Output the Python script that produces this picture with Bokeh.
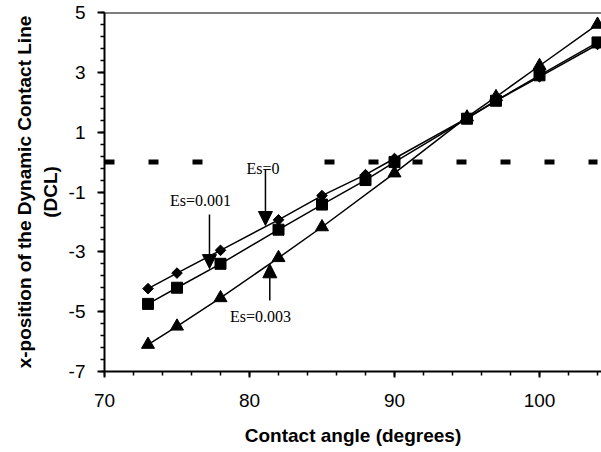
import numpy as np
from bokeh.plotting import figure
from bokeh.models import (FixedTicker, Span, Label, Arrow, NormalHead, Range1d,
                          CustomJSTickFormatter)
from bokeh.embed import file_html
from bokeh.resources import INLINE

# ---- data ----
angle_es0 = [73, 75, 78, 82, 85, 88, 90, 95, 97, 100, 104]
dcl_es0 = [-4.23, -3.71, -2.95, -1.93, -1.12, -0.42, 0.12, 1.47, 2.05, 2.85, 3.93]

angle_es001 = [73, 75, 78, 82, 85, 88, 90, 95, 97, 100, 104]
dcl_es001 = [-4.74, -4.2, -3.4, -2.26, -1.42, -0.6, 0.0, 1.45, 2.05, 2.9, 4.0]

angle_es003 = [73, 75, 78, 82, 85, 90, 95, 97, 100, 104]
dcl_es003 = [-6.1, -5.49, -4.54, -3.2, -2.17, -0.37, 1.5, 2.18, 3.22, 4.6]

zero_x = [70, 104]
zero_y = [0, 0]

x_ticks = [70, 80, 90, 100]
y_ticks = [-7, -5, -3, -1, 1, 3, 5]

labels = ["Es=0", "Es=0.001", "Es=0.003"]
label_x = [80.93, 76.62, 80.76]
label_y = [-0.21, -1.3, -5.16]
arrow_x = [81.1, 77.24, 81.4]
arrow_tail = [-0.25, -1.75, -4.63]
arrow_tip = [-2.12, -3.56, -3.4]

AX_FONT = "Liberation Sans"
ANN_FONT = "Liberation Serif"

p = figure(width=601, height=452, output_backend="svg", toolbar_location=None,
           x_range=Range1d(70, 70 + 497 / 14.5), y_range=Range1d(-7, 5),
           min_border_left=104, min_border_right=0, min_border_top=12,
           min_border_bottom=81)
p.outline_line_color = None
p.grid.grid_line_color = None
p.background_fill_color = "white"
p.border_fill_color = "white"

# axes
fmt = "return String(tick);"
p.xaxis.ticker = FixedTicker(ticks=x_ticks, minor_ticks=list(np.arange(70, 105, 2)))
p.yaxis.ticker = FixedTicker(ticks=y_ticks, minor_ticks=list(np.round(np.arange(-7, 5.01, 0.4), 2)))
for ax in (p.xaxis, p.yaxis):
    ax.formatter = CustomJSTickFormatter(code=fmt)
    ax.axis_line_color = "black"
    ax.axis_line_width = 2
    ax.major_tick_line_color = "black"
    ax.major_tick_line_width = 2
    ax.minor_tick_line_color = "black"
    ax.minor_tick_line_width = 1.5
    ax.major_tick_in = 0
    ax.minor_tick_in = 0
    ax.minor_tick_out = 4
    ax.major_label_text_font = AX_FONT
    ax.major_label_text_font_size = "19px"
    ax.major_label_text_color = "black"
    ax.axis_label_text_font = AX_FONT
    ax.axis_label_text_font_size = "19px"
    ax.axis_label_text_font_style = "bold"
    ax.axis_label_text_color = "black"
p.xaxis.major_tick_out = 6
p.yaxis.major_tick_out = 7
p.xaxis.major_label_standoff = 16
p.yaxis.major_label_standoff = 12
p.xaxis.axis_label = "Contact angle (degrees)"
p.yaxis.axis_label = "x-position of the Dynamic Contact Line\n(DCL)"
p.xaxis.axis_label_standoff = 15
p.yaxis.axis_label_standoff = 5

# top border
p.add_layout(Span(location=5, dimension="width", line_color="black", line_width=2))

# dashed zero line
p.line(zero_x, zero_y, line_color="black", line_width=5, line_dash="10 34")

# series
p.line(angle_es003, dcl_es003, line_color="black", line_width=1.5)
p.line(angle_es001, dcl_es001, line_color="black", line_width=1.5)
p.line(angle_es0, dcl_es0, line_color="black", line_width=1.5)
p.scatter(angle_es0, dcl_es0, marker="square", angle=np.pi / 4, size=7.5,
          fill_color="black", line_color="black")
p.scatter(angle_es001, dcl_es001, marker="square", size=11,
          fill_color="black", line_color="black")
p.scatter(angle_es003, dcl_es003, marker="triangle", size=13,
          fill_color="black", line_color="black")

# annotations
for i, t in enumerate(labels):
    kw = {}
    if i == 0:
        kw = dict(background_fill_color="white", padding=14)
    p.add_layout(Label(x=label_x[i], y=label_y[i], text=t, text_font=ANN_FONT,
                       text_font_size="16px", text_align="center",
                       text_baseline="middle", text_color="black", **kw))
for i in range(3):
    p.add_layout(Arrow(x_start=arrow_x[i], y_start=arrow_tail[i],
                       x_end=arrow_x[i], y_end=arrow_tip[i],
                       line_color="black", line_width=1.5,
                       end=NormalHead(size=14, fill_color="black", line_color="black")))

open("out.html", "w").write(file_html(p, INLINE))
